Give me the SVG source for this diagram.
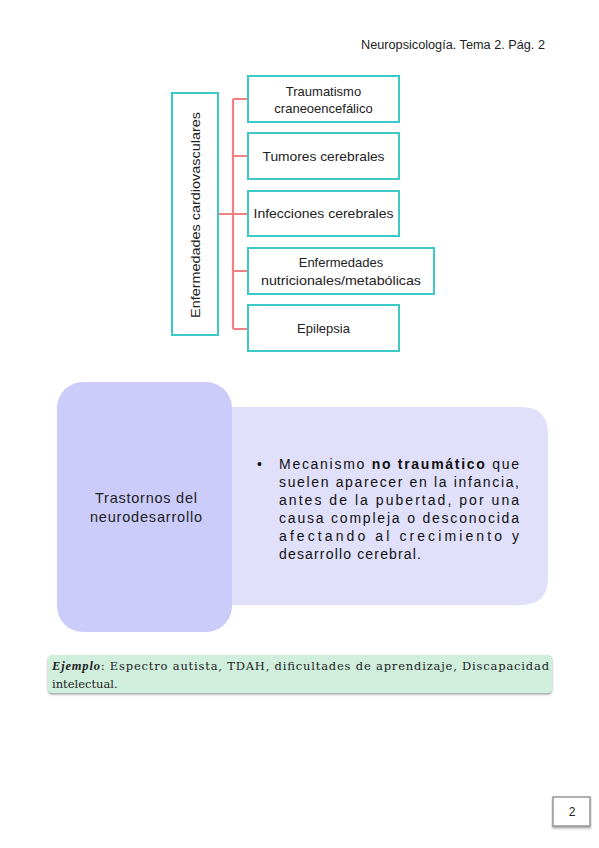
<svg xmlns="http://www.w3.org/2000/svg" width="599" height="848" viewBox="0 0 599 848">
<style>
.t{font-family:"Liberation Sans","DejaVu Sans",sans-serif;fill:#222}
.box{fill:#fff;stroke:#3ec9c9;stroke-width:2}
.con{stroke:#f47f80;stroke-width:2.2;fill:none}
.lbl{font-size:13px;text-anchor:middle}
.bt{font-size:14px;fill:#111}
.ex{font-family:"DejaVu Serif","Liberation Serif",serif;font-size:11.5px;fill:#222}
</style>
<defs>
<filter id="sh" x="-5%" y="-20%" width="110%" height="150%">
<feDropShadow dx="0" dy="1.5" stdDeviation="1.2" flood-color="#777" flood-opacity="0.7"/>
</filter>
<filter id="soft" x="-5%" y="-5%" width="110%" height="110%">
<feGaussianBlur stdDeviation="0.6"/>
</filter>
</defs>
<rect width="599" height="848" fill="#fff"/>
<text class="t" x="361" y="49" font-size="12" fill="#444" textLength="184" lengthAdjust="spacingAndGlyphs">Neuropsicología. Tema 2. Pág. 2</text>

<g id="connectors">
<path class="con" d="M219 214 H233 M233 99 V329 M233 99 H248 M233 156 H248 M233 214 H248 M233 271 H248 M233 329 H248"/>
</g>

<g id="n-root">
<rect class="box" x="172" y="93" width="46" height="242"/>
<text class="t lbl" transform="translate(200 215) rotate(-90)" textLength="206" lengthAdjust="spacingAndGlyphs">Enfermedades cardiovasculares</text>
</g>
<g id="n1">
<rect class="box" x="248" y="76" width="151" height="46"/>
<text class="t lbl" x="323.5" y="96">Traumatismo</text>
<text class="t lbl" x="323.5" y="113">craneoencefálico</text>
</g>
<g id="n2">
<rect class="box" x="248" y="133" width="151" height="46"/>
<text class="t lbl" x="323.5" y="161" textLength="122" lengthAdjust="spacingAndGlyphs">Tumores cerebrales</text>
</g>
<g id="n3">
<rect class="box" x="248" y="191" width="151" height="45"/>
<text class="t lbl" x="323.5" y="218" textLength="140" lengthAdjust="spacingAndGlyphs">Infecciones cerebrales</text>
</g>
<g id="n4">
<rect class="box" x="248" y="248" width="186" height="46"/>
<text class="t lbl" x="341" y="267">Enfermedades</text>
<text class="t lbl" x="341" y="285" textLength="160" lengthAdjust="spacingAndGlyphs">nutricionales/metabólicas</text>
</g>
<g id="n5">
<rect class="box" x="248" y="305" width="151" height="46"/>
<text class="t lbl" x="323.5" y="333">Epilepsia</text>
</g>

<g id="n-desc">
<path d="M226 407 H521 Q548 407 548 434 V578 Q548 605 521 605 H226 Z" fill="#e0e0fa" filter="url(#soft)"/>
<text class="t bt" x="257" y="469">•</text>
<text class="t bt" x="279" y="469" textLength="240" lengthAdjust="spacing">Mecanismo <tspan font-weight="bold">no traumático</tspan> que</text>
<text class="t bt" x="279" y="487" textLength="240" lengthAdjust="spacing">suelen aparecer en la infancia,</text>
<text class="t bt" x="279" y="505" textLength="240" lengthAdjust="spacing">antes de la pubertad, por una</text>
<text class="t bt" x="279" y="523" textLength="240" lengthAdjust="spacing">causa compleja o desconocida</text>
<text class="t bt" x="279" y="541" textLength="240" lengthAdjust="spacing">afectando al crecimiento y</text>
<text class="t bt" x="279" y="559" textLength="142" lengthAdjust="spacing">desarrollo cerebral.</text>
</g>
<g id="n-title">
<rect x="57" y="382" width="175" height="250" rx="26" fill="#ccccfb" filter="url(#soft)"/>
<text class="t" x="146" y="503" font-size="14.5" text-anchor="middle" fill="#111" textLength="102" lengthAdjust="spacing">Trastornos del</text>
<text class="t" x="146" y="522" font-size="14.5" text-anchor="middle" fill="#111" textLength="112" lengthAdjust="spacing">neurodesarrollo</text>
</g>

<g id="n-example">
<rect x="48" y="655" width="504" height="38" rx="4" fill="#cfeedc" filter="url(#sh)"/>
<text class="ex" x="52" y="670" textLength="497" lengthAdjust="spacing"><tspan font-family="'Liberation Serif',serif" font-style="italic" font-weight="bold" font-size="12.5">Ejemplo</tspan>: Espectro autista, TDAH, dificultades de aprendizaje, Discapacidad</text>
<text class="ex" x="52" y="688">intelectual.</text>
</g>

<g id="page">
<rect x="553" y="797" width="37" height="29" fill="#fff" stroke="#999" stroke-width="1.5" filter="url(#sh)"/>
<text class="t" x="572" y="816" font-size="12" text-anchor="middle">2</text>
</g>
</svg>
